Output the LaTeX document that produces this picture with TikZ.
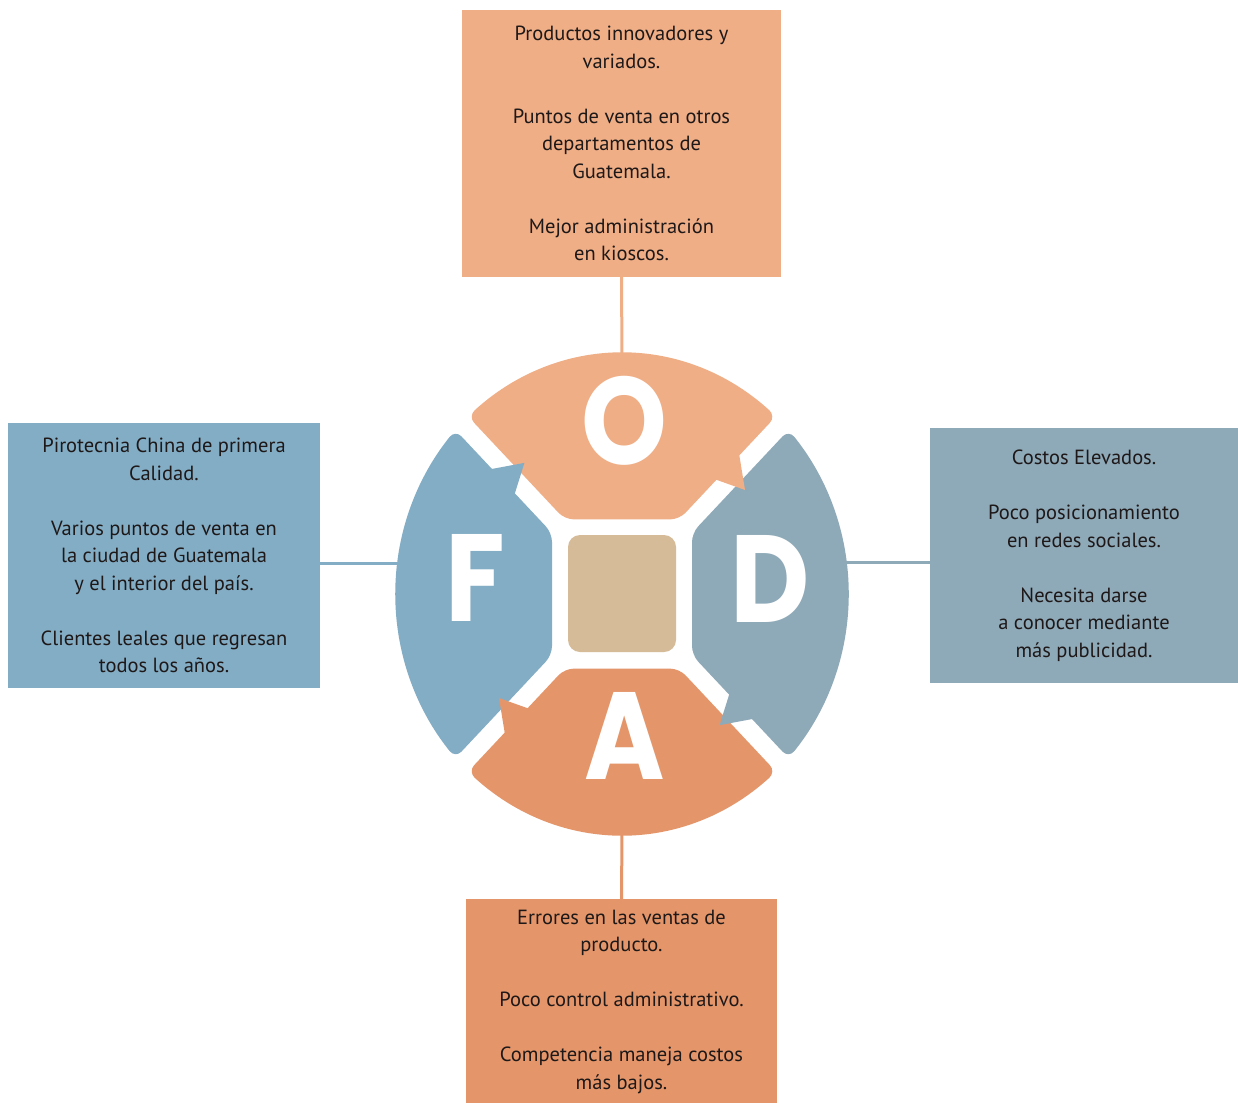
\documentclass[tikz,border=0pt]{standalone}
\usepackage{fontspec}
\usepackage{graphicx}
\setmainfont{PT Sans}
\newfontfamily\letterfont{Poppins}
\definecolor{ocol}{RGB}{239,174,134}
\definecolor{acol}{RGB}{228,150,106}
\definecolor{fcol}{RGB}{131,173,197}
\definecolor{dcol}{RGB}{142,169,184}
\definecolor{tancol}{RGB}{214,187,152}
\definecolor{txtcol}{RGB}{30,24,24}
\tikzset{
  infobox/.style={inner sep=0pt, align=center, text=txtcol, font=\fontsize{20.5}{27.5}\selectfont},
  letter/.style={text=white, inner sep=0pt, font=\letterfont\bfseries\fontsize{124}{124}\selectfont},
  conn/.style={line width=3pt},
}
\begin{document}
\begin{tikzpicture}[x=1pt,y=-1pt]
\useasboundingbox (0,0) rectangle (1238,1102);
\fill[white] (0,0) rectangle (1238,1102);

% text boxes
\node[infobox, fill=ocol, minimum width=319pt, minimum height=267pt] (obox) at (621.5,143.5)
  {Productos innovadores y\\variados.\\[27.5pt]Puntos de venta en otros\\departamentos de\\Guatemala.\\[27.5pt]Mejor administración\\en kioscos.};
\node[infobox, fill=fcol, minimum width=312pt, minimum height=265pt] (fbox) at (164,555.5)
  {Pirotecnia China de primera\\Calidad.\\[27.5pt]Varios puntos de venta en\\la ciudad de Guatemala\\y el interior del país.\\[27.5pt]Clientes leales que regresan\\todos los años.};
\node[infobox, fill=dcol, minimum width=308pt, minimum height=255pt] (dbox) at (1084,555.5)
  {Costos Elevados.\\[27.5pt]Poco posicionamiento\\en redes sociales.\\[27.5pt]Necesita darse\\a conocer mediante\\más publicidad.};
\node[infobox, fill=acol, minimum width=311pt, minimum height=205pt] (abox) at (621.5,1001.5)
  {Errores en las ventas de\\producto.\\[27.5pt]Poco control administrativo.\\[27.5pt]Competencia maneja costos\\más bajos.};

% connector end points on the wheel
\coordinate (otop) at (622,360);
\coordinate (fleft) at (405,563);
\coordinate (dright) at (840,562);
\coordinate (abot) at (622,830);
\draw[conn, ocol] (obox.south) -- (otop);
\draw[conn, fcol] (fleft -| fbox.east) -- (fleft);
\draw[conn, dcol] (dright) -- (dright -| dbox.west);
\draw[conn, acol] (abot) -- (abox.north);

% wheel
\begin{scope}[shift={(622,594)}, x=1pt, y=1pt, yscale=1.066]
  \foreach \r/\col in {0/ocol,-90/dcol,180/acol,90/fcol}{
    \begin{scope}[rotate=\r]
      \fill[\col, rounded corners=9pt] (-57.27,70) -- (57.27,70) -- (47.27:227)
        \foreach \i in {1,...,15}{ -- ({47.27+85.46*\i/16}:227)} -- (132.73:227) -- cycle;
    \end{scope}
  }
  \foreach \r/\col in {0/ocol,-90/dcol,180/acol,90/fcol}{
    \fill[\col, rotate=\r] (116.7,133.6) -- (123.0,97.6) -- (91.2,108.2) -- cycle;
  }
\end{scope}

\node[fill=tancol, rounded corners=12pt, minimum width=108pt, minimum height=117pt, inner sep=0pt] (ctr) at (622,593.5) {};

\node[letter] (lo) at (624,421) {\scalebox{0.88}[1]{O}};
\node[letter] (lf) at (475,578) {\scalebox{0.88}[1]{F}};
\node[letter] (ld) at (770,579) {\scalebox{0.88}[1]{D}};
\node[letter] (la) at (625,736) {\scalebox{0.88}[1]{A}};
\end{tikzpicture}
\end{document}
